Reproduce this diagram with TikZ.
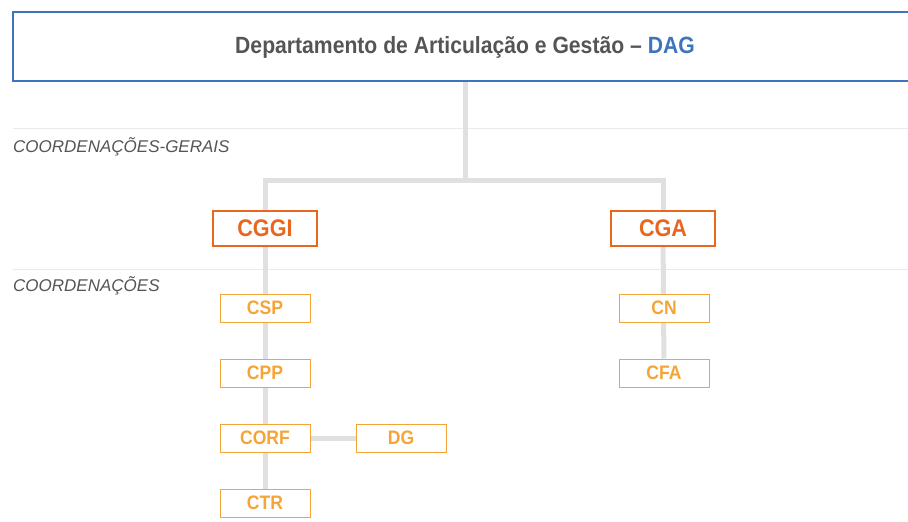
\documentclass[tikz,border=0pt]{standalone}
\usepackage{fontspec}
\setmainfont{Liberation Sans}
\newfontfamily\cond[FakeStretch=0.9]{Liberation Sans}
\usetikzlibrary{backgrounds}
\definecolor{dagblue}{HTML}{3D74BD}
\definecolor{txtgray}{HTML}{555555}
\definecolor{conngray}{HTML}{E0E0E0}
\definecolor{sepgray}{HTML}{EAEAEA}
\definecolor{odark}{HTML}{E8661E}
\definecolor{olight}{HTML}{F5A537}
\tikzset{
  genbox/.style={draw=odark, line width=2pt, fill=white, minimum width=104pt, minimum height=35pt, inner sep=0pt, text=odark, font=\cond\bfseries\fontsize{24}{24}\selectfont},
  coordbox/.style={draw=olight, line width=1pt, fill=white, minimum width=90pt, minimum height=28pt, inner sep=0pt, text=olight, font=\cond\bfseries\fontsize{19.5}{19.5}\selectfont},
  conn/.style={draw=conngray, line width=5pt, line join=miter},
  sepline/.style={draw=sepgray, line width=1pt},
  levellabel/.style={anchor=base west, inner sep=0pt, text=txtgray, font=\itshape\fontsize{17}{17}\selectfont}
}
\begin{document}
\begin{tikzpicture}[x=1pt,y=-1pt]
\useasboundingbox (0,0) rectangle (908,522);
% top box
\node[minimum width=895pt, minimum height=69pt, inner sep=0pt] (dag) at (460.5,46.5) {};
\node[text=txtgray, font=\cond\bfseries\fontsize{23.5}{23.5}\selectfont, inner sep=0pt] (dagtxt) at (465,47) {Departamento de Articulação e Gestão – \textcolor{dagblue}{DAG}};
\draw[draw=dagblue, line width=2pt] (dag.north east) -- (dag.north west) -- (dag.south west) -- (dag.south east);
% level labels
\node[levellabel] (lg) at (13,152) {COORDENAÇÕES-GERAIS};
\node[levellabel] (lc) at (13,291) {COORDENAÇÕES};
% nodes
\node[genbox] (cggi) at (265,228.5) {CGGI};
\node[genbox] (cga) at (663,228.5) {CGA};
\node[coordbox] (csp) at (265,308) {CSP};
\node[coordbox] (cpp) at (265,373) {CPP};
\node[coordbox] (corf) at (265,438) {CORF};
\node[coordbox] (ctr) at (265,503) {CTR};
\node[coordbox] (dg) at (401,438) {DG};
\node[coordbox] (cn) at (664,308) {CN};
\node[coordbox] (cfa) at (664,373) {CFA};
\coordinate (j) at (465,180.5);
\coordinate (s1a) at (13,128.5);
\coordinate (s1b) at (908,128.5);
\coordinate (s2a) at (13,269.5);
\coordinate (s2b) at (908,269.5);
\begin{scope}[on background layer]
\draw[sepline] (s1a) -- (s1b);
\draw[sepline] (s2a) -- (s2b);
\draw[conn] (dagtxt |- dag.south) -- (j);
\draw[conn] (cggi.north) -- (cggi.north |- j) -- (cga.north |- j) -- (cga.north);
\draw[conn] (cggi) -- (ctr);
\draw[conn] (cga) -- (cfa);
\draw[conn] (corf) -- (dg);
\end{scope}
\end{tikzpicture}
\end{document}
